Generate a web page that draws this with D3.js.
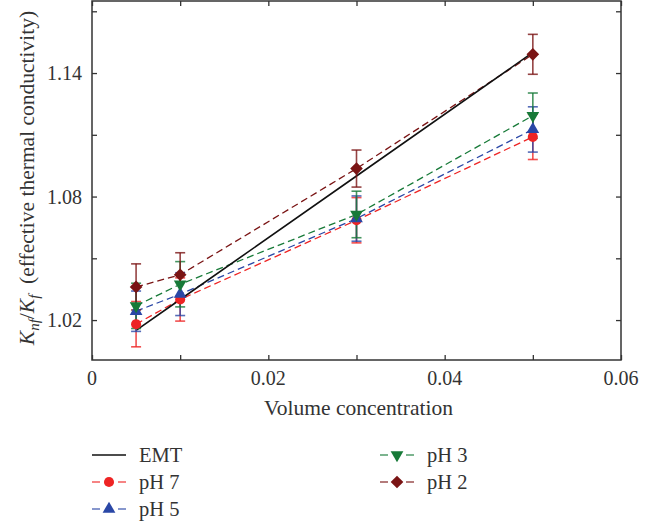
<!DOCTYPE html>
<html>
<head>
<meta charset="utf-8">
<script src="https://cdn.jsdelivr.net/npm/d3@7"></script>
<style>
  body { margin: 0; background: #fff; }
  text { font-family: "Liberation Serif", "DejaVu Serif", serif; fill: #333; }
</style>
</head>
<body>
<div id="chart"></div>
<script>
// Volume concentration of the samples
const phi = [0.005, 0.01, 0.03, 0.05];

// Effective thermal conductivity ratio for each series
const emt = [1.015, 1.030, 1.090, 1.150];
const ph7 = [1.018, 1.030, 1.0685, 1.109];
const ph5 = [1.0243, 1.0326, 1.0693, 1.1126];
const ph3 = [1.0269, 1.0374, 1.0713, 1.1193];
const ph2 = [1.0361, 1.0420, 1.0936, 1.1491];

// Error bar half-widths
const ph7Err = [0.011, 0.0105, 0.011, 0.011];
const ph5Err = [0.0098, 0.0104, 0.011, 0.011];
const ph3Err = [0.011, 0.011, 0.0113, 0.011];
const ph2Err = [0.0112, 0.0107, 0.009, 0.0097];

const xTicks = [0, 0.01, 0.02, 0.03, 0.04, 0.05, 0.06];
const xLabels = [0, 0.02, 0.04, 0.06];
const yTicks = [1.02, 1.05, 1.08, 1.11, 1.14, 1.17];
const yLabels = [1.02, 1.08, 1.14];

const series = [
  { name: "pH 7", values: ph7, err: ph7Err, color: "#ee2424", symbol: "circle" },
  { name: "pH 5", values: ph5, err: ph5Err, color: "#2a47a6", symbol: "up" },
  { name: "pH 3", values: ph3, err: ph3Err, color: "#177a38", symbol: "down" },
  { name: "pH 2", values: ph2, err: ph2Err, color: "#7a1414", symbol: "diamond" }
];

const W = 656, H = 523;
const svg = d3.select("#chart").append("svg")
    .attr("width", W)
    .attr("height", H);

const x = d3.scaleLinear().domain([0, 0.06]).range([92, 621]);
const y = d3.scaleLinear().domain([1.0006, 1.175]).range([360, 1]);

// symbol paths
function symbolPath(kind) {
  if (kind === "circle") return d3.symbol(d3.symbolCircle, 80)();
  if (kind === "diamond") return d3.symbol(d3.symbolSquare, 80)();
  return d3.symbol(d3.symbolTriangle, 70)();
}
function symbolRotate(kind) {
  if (kind === "down") return 180;
  if (kind === "diamond") return 45;
  return 0;
}

// frame
svg.append("rect")
    .attr("x", x(0)).attr("y", y.range()[1])
    .attr("width", x(0.06) - x(0))
    .attr("height", y.range()[0] - y.range()[1])
    .attr("fill", "none")
    .attr("stroke", "#333")
    .attr("stroke-width", 1.5);

// inward ticks on all four sides
const tickLen = 5;
svg.append("g").attr("transform", "translate(0," + y.range()[0] + ")")
    .call(d3.axisBottom(x).tickValues(xTicks).tickSizeInner(-tickLen).tickSizeOuter(0).tickFormat(""))
    .call(g => g.select(".domain").remove());
svg.append("g").attr("transform", "translate(0," + y.range()[1] + ")")
    .call(d3.axisTop(x).tickValues(xTicks).tickSizeInner(-tickLen).tickSizeOuter(0).tickFormat(""))
    .call(g => g.select(".domain").remove());
svg.append("g").attr("transform", "translate(" + x(0) + ",0)")
    .call(d3.axisLeft(y).tickValues(yTicks).tickSizeInner(-tickLen).tickSizeOuter(0).tickFormat(""))
    .call(g => g.select(".domain").remove());
svg.append("g").attr("transform", "translate(" + x(0.06) + ",0)")
    .call(d3.axisRight(y).tickValues(yTicks).tickSizeInner(-tickLen).tickSizeOuter(0).tickFormat(""))
    .call(g => g.select(".domain").remove());
svg.selectAll(".tick line").attr("stroke", "#333").attr("stroke-width", 1.3);

// tick labels
svg.append("g").selectAll("text")
    .data(xLabels)
    .enter().append("text")
    .attr("x", d => x(d))
    .attr("y", 385)
    .attr("text-anchor", "middle")
    .attr("font-size", 20)
    .text(d => d === 0 ? "0" : d3.format(".2f")(d));

svg.append("g").selectAll("text")
    .data(yLabels)
    .enter().append("text")
    .attr("x", 82)
    .attr("y", d => y(d) + 7)
    .attr("text-anchor", "end")
    .attr("font-size", 20)
    .text(d => d3.format(".2f")(d));

// axis titles
svg.append("text")
    .attr("x", (x(0) + x(0.06)) / 2 + 2)
    .attr("y", 415)
    .attr("text-anchor", "middle")
    .attr("font-size", 21.5)
    .text("Volume concentration");

const yTitle = svg.append("text")
    .attr("transform", "translate(34,178) rotate(-90)")
    .attr("text-anchor", "middle")
    .attr("font-size", 21.5);
yTitle.append("tspan").attr("font-style", "italic").text("K");
yTitle.append("tspan").attr("font-style", "italic").attr("font-size", 15).attr("dy", 5).text("nf");
yTitle.append("tspan").attr("dy", -5).text("/");
yTitle.append("tspan").attr("font-style", "italic").text("K");
yTitle.append("tspan").attr("font-style", "italic").attr("font-size", 15).attr("dy", 5).text("f");
yTitle.append("tspan").attr("dy", -5).text("\u2002(effective thermal conductivity)");

// lines
const line = d3.line()
    .x((d, i) => x(phi[i]))
    .y(d => y(d));

series.forEach(s => {
  svg.append("path")
      .datum(s.values)
      .attr("fill", "none")
      .attr("stroke", s.color)
      .attr("stroke-width", 1.3)
      .attr("stroke-dasharray", "7,4")
      .attr("d", line);
});

svg.append("path")
    .datum(emt)
    .attr("fill", "none")
    .attr("stroke", "#111")
    .attr("stroke-width", 1.6)
    .attr("d", line);

// error bars
series.forEach(s => {
  const g = svg.append("g")
      .attr("stroke", s.color)
      .attr("stroke-width", 1.6)
      .attr("stroke-opacity", 0.8);
  s.values.forEach((v, i) => {
    const cx = x(phi[i]);
    const lo = y(v - s.err[i]), hi = y(v + s.err[i]);
    g.append("line").attr("x1", cx).attr("x2", cx).attr("y1", lo).attr("y2", hi);
    g.append("line").attr("x1", cx - 5).attr("x2", cx + 5).attr("y1", lo).attr("y2", lo);
    g.append("line").attr("x1", cx - 5).attr("x2", cx + 5).attr("y1", hi).attr("y2", hi);
  });
});

// markers
series.forEach(s => {
  svg.append("g").selectAll("path")
      .data(s.values)
      .enter().append("path")
      .attr("d", symbolPath(s.symbol))
      .attr("fill", s.color)
      .attr("transform", (d, i) => "translate(" + x(phi[i]) + "," + y(d) + ") rotate(" + symbolRotate(s.symbol) + ")");
});

// legend
const legendItems = [
  { name: "EMT", color: "#111", symbol: null, col: 0, row: 0 },
  { name: "pH 7", color: series[0].color, symbol: "circle", col: 0, row: 1 },
  { name: "pH 5", color: series[1].color, symbol: "up", col: 0, row: 2 },
  { name: "pH 3", color: series[2].color, symbol: "down", col: 1, row: 0 },
  { name: "pH 2", color: series[3].color, symbol: "diamond", col: 1, row: 1 }
];
const colX = [92, 380];
const rowY = [455, 482, 509];

legendItems.forEach(item => {
  const lx = colX[item.col], ly = rowY[item.row];
  const g = svg.append("g").attr("transform", "translate(" + lx + "," + ly + ")");
  if (item.symbol === null) {
    g.append("line").attr("x1", 0).attr("x2", 34).attr("y1", 0).attr("y2", 0)
        .attr("stroke", item.color).attr("stroke-width", 1.4);
  } else {
    g.append("line").attr("x1", 0).attr("x2", 34).attr("y1", 0).attr("y2", 0)
        .attr("stroke", item.color).attr("stroke-width", 1.3)
        .attr("stroke-opacity", 0.75)
        .attr("stroke-dasharray", "8,18");
    g.append("path")
        .attr("d", symbolPath(item.symbol))
        .attr("fill", item.color)
        .attr("transform", "translate(17,0) rotate(" + symbolRotate(item.symbol) + ")");
  }
  g.append("text")
      .attr("x", 47)
      .attr("y", 7)
      .attr("font-size", 20.5)
      .text(item.name);
});
</script>
</body>
</html>
